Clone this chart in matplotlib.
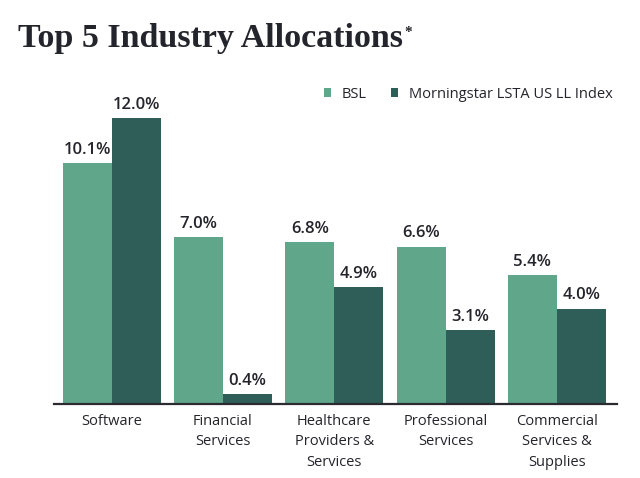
import matplotlib
matplotlib.use("Agg")
import matplotlib.pyplot as plt
import numpy as np

categories = ["Software", "Financial\nServices", "Healthcare\nProviders &\nServices",
              "Professional\nServices", "Commercial\nServices &\nSupplies"]
bsl = [10.1, 7.0, 6.8, 6.6, 5.4]
index_vals = [12.0, 0.4, 4.9, 3.1, 4.0]
series_names = ["BSL", "Morningstar LSTA US LL Index"]
title = "Top 5 Industry Allocations"

c_bsl = "#5fa68b"
c_idx = "#2f5e59"
txt = "#24242c"

fig = plt.figure(figsize=(6.4, 4.78), dpi=100)
ax = fig.add_axes([0.084, 0.155, 0.88, 0.648])
x = np.arange(len(categories))
w = 0.44
b1 = ax.bar(x - w / 2, bsl, w, color=c_bsl, label=series_names[0])
b2 = ax.bar(x + w / 2, index_vals, w, color=c_idx, label=series_names[1])
for bars, vals in ((b1, bsl), (b2, index_vals)):
    for r, v in zip(bars, vals):
        ax.text(r.get_x() + r.get_width() / 2, v + 0.22, f"{v:.1f}%",
                ha="center", va="bottom", fontsize=12, fontweight="semibold",
                color=txt, family="Open Sans")
ax.set_xlim(-0.52, 4.54)
ax.set_ylim(0, 13)
ax.set_yticks([])
ax.set_xticks(x)
ax.set_xticklabels(categories, fontsize=10.5, color=txt, family="Open Sans",
                   linespacing=1.5)
ax.tick_params(axis="x", length=0, pad=7)
for s in ["top", "right", "left"]:
    ax.spines[s].set_visible(False)
ax.spines["bottom"].set_color("#2a2a30")
ax.spines["bottom"].set_linewidth(1.6)

leg = ax.legend(loc="center right", bbox_to_anchor=(1.015, 1.0), ncol=2, frameon=False,
                prop={"family": "Open Sans", "size": 10.5}, handlelength=0.5,
                handleheight=0.6, handletextpad=0.7, columnspacing=1.7)
for t in leg.get_texts():
    t.set_color(txt)

t = fig.text(0.028, 1 - 47 / 478, title, fontsize=24.5, fontweight="bold",
             family="Liberation Serif", color=txt, va="baseline", ha="left")
ax.annotate("*", xy=(1.0, 1.0), xycoords=t, xytext=(1, -2), textcoords="offset points",
            fontsize=11, fontweight="bold", family="Liberation Serif", color=txt,
            ha="left", va="top", annotation_clip=False)

fig.savefig("out.png", dpi=100)
